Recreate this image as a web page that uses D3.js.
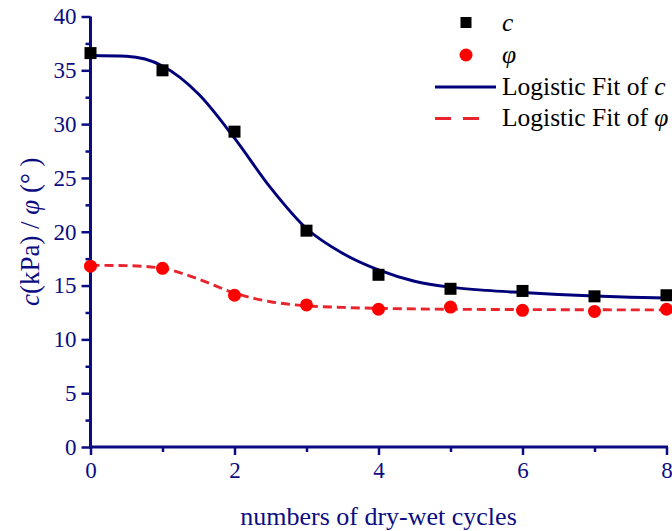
<!DOCTYPE html>
<html>
<head>
<meta charset="utf-8">
<script src="https://cdn.jsdelivr.net/npm/d3@7"></script>
<style>
  html, body { margin: 0; padding: 0; background: #ffffff; }
  svg { display: block; }
</style>
</head>
<body>
<div id="chart"></div>
<script>
// ---- data ----
const cycles = [0, 1, 2, 3, 4, 5, 6, 7, 8];
const cValues = [36.6, 35.0, 29.3, 20.1, 16.0, 14.7, 14.5, 14.0, 14.1];
const phiValues = [16.8, 16.6, 14.1, 13.2, 12.8, 13.0, 12.7, 12.6, 12.8];

// fitted curves
const fitX = [0, 0.5, 1, 1.5, 2, 2.5, 3, 3.5, 4, 4.5, 5, 5.5, 6, 6.5, 7, 7.5, 8];
const cFit = [36.37, 36.3, 35.4, 32.8, 28.7, 24.1, 20.3, 18.0, 16.45, 15.4, 14.85, 14.55, 14.35, 14.17, 14.03, 13.92, 13.85];
const phiFit = [16.88, 16.85, 16.6, 15.6, 14.3, 13.5, 13.12, 12.97, 12.88, 12.83, 12.8, 12.78, 12.77, 12.76, 12.75, 12.74, 12.74];

const xTicks = [0, 2, 4, 6, 8];
const yTicks = [0, 5, 10, 15, 20, 25, 30, 35, 40];
const legendLabels = ["c", "φ", "Logistic Fit of ", "Logistic Fit of "];

// ---- layout ----
const W = 672, H = 531;
const navy = "#0c0c82";
const FONT = "Liberation Serif";
const svg = d3.select("#chart").append("svg").attr("width", W).attr("height", H)
  .attr("font-family", FONT);

const x = d3.scaleLinear().domain([0, 8]).range([90.5, 666.5]);
const y = d3.scaleLinear().domain([0, 40]).range([447, 16.5]);

// minor ticks
const xMinor = d3.range(1, 8, 2);
const yMinor = d3.range(2.5, 40, 5);

const gx = svg.append("g").attr("transform", `translate(0,${y(0)})`);
gx.call(d3.axisBottom(x).tickValues(xTicks).tickSize(8).tickPadding(6).tickFormat(d3.format("d")));
gx.append("g").call(d3.axisBottom(x).tickValues(xMinor).tickSize(5).tickFormat(""));
gx.selectAll(".domain").remove();
gx.append("line").attr("x1", x(0) - 1.5).attr("x2", x(8) + 1.5).attr("stroke", navy).attr("stroke-width", 3);

const gy = svg.append("g").attr("transform", `translate(${x(0)},0)`);
gy.call(d3.axisLeft(y).tickValues(yTicks).tickSize(9).tickPadding(5).tickFormat(d3.format("d")));
gy.append("g").call(d3.axisLeft(y).tickValues(yMinor).tickSize(5).tickFormat(""));
gy.selectAll(".domain").remove();
gy.append("line").attr("y1", y(40)).attr("y2", y(0) + 1.5).attr("stroke", navy).attr("stroke-width", 3);

svg.selectAll("g").attr("font-family", FONT);
svg.selectAll(".tick line").attr("stroke", navy).attr("stroke-width", 2.5);
svg.selectAll(".tick text").attr("fill", navy).attr("font-size", 23);
gx.selectAll(".tick text").attr("dy", "0.72em");

// axis titles
svg.append("text")
  .attr("x", (x(0) + x(8)) / 2).attr("y", 525)
  .attr("text-anchor", "middle").attr("fill", navy).attr("font-size", 26)
  .text("numbers of dry-wet cycles");

const yt = svg.append("text")
  .attr("transform", `translate(39,${(y(0) + y(40)) / 2}) rotate(-90)`)
  .attr("text-anchor", "middle").attr("fill", navy).attr("font-size", 27);
yt.append("tspan").attr("font-style", "italic").text("c");
yt.append("tspan").text("(kPa) / ");
yt.append("tspan").attr("font-style", "italic").text("φ");
yt.append("tspan").text(" (° )");

// fit curves
const line = (vals) => d3.line()
  .x((d, i) => x(fitX[i])).y(d => y(d))
  .curve(d3.curveMonotoneX)(vals);

svg.append("path").attr("d", line(cFit)).attr("fill", "none")
  .attr("stroke", "#00007a").attr("stroke-width", 2.9);
svg.append("path").attr("d", line(phiFit)).attr("fill", "none")
  .attr("stroke", "#e8242e").attr("stroke-width", 2.9).attr("stroke-dasharray", "9,5");

// points
const sq = 12;
svg.selectAll("rect.c").data(cValues).enter().append("rect")
  .attr("class", "c")
  .attr("x", (d, i) => x(cycles[i]) - sq / 2).attr("y", d => y(d) - sq / 2)
  .attr("width", sq).attr("height", sq).attr("fill", "#000");
svg.selectAll("circle.p").data(phiValues).enter().append("circle")
  .attr("class", "p")
  .attr("cx", (d, i) => x(cycles[i])).attr("cy", d => y(d))
  .attr("r", 6.5).attr("fill", "#ff0000");

// legend
const LFS = 25.5;
const lg = svg.append("g");
lg.append("rect").attr("x", 460.5).attr("y", 17).attr("width", 11).attr("height", 11).attr("fill", "#000");
lg.append("text").attr("x", 502).attr("y", 31).attr("font-size", LFS).attr("font-style", "italic").attr("fill", "#000").text(legendLabels[0]);
lg.append("circle").attr("cx", 466).attr("cy", 55).attr("r", 6.5).attr("fill", "#ff0000");
lg.append("text").attr("x", 502).attr("y", 63).attr("font-size", LFS).attr("font-style", "italic").attr("fill", "#000").text(legendLabels[1]);
lg.append("line").attr("x1", 435).attr("x2", 496).attr("y1", 87).attr("y2", 87).attr("stroke", "#00007a").attr("stroke-width", 2.9);
const t3 = lg.append("text").attr("x", 502).attr("y", 95).attr("font-size", LFS).attr("fill", "#000");
t3.append("tspan").text(legendLabels[2]);
t3.append("tspan").attr("font-style", "italic").text("c");
lg.append("line").attr("x1", 435).attr("x2", 480).attr("y1", 118.5).attr("y2", 118.5).attr("stroke", "#e8242e").attr("stroke-width", 2.9).attr("stroke-dasharray", "16,12");
const t4 = lg.append("text").attr("x", 502).attr("y", 126).attr("font-size", LFS).attr("fill", "#000");
t4.append("tspan").text(legendLabels[3]);
t4.append("tspan").attr("font-style", "italic").text("φ");
</script>
</body>
</html>
